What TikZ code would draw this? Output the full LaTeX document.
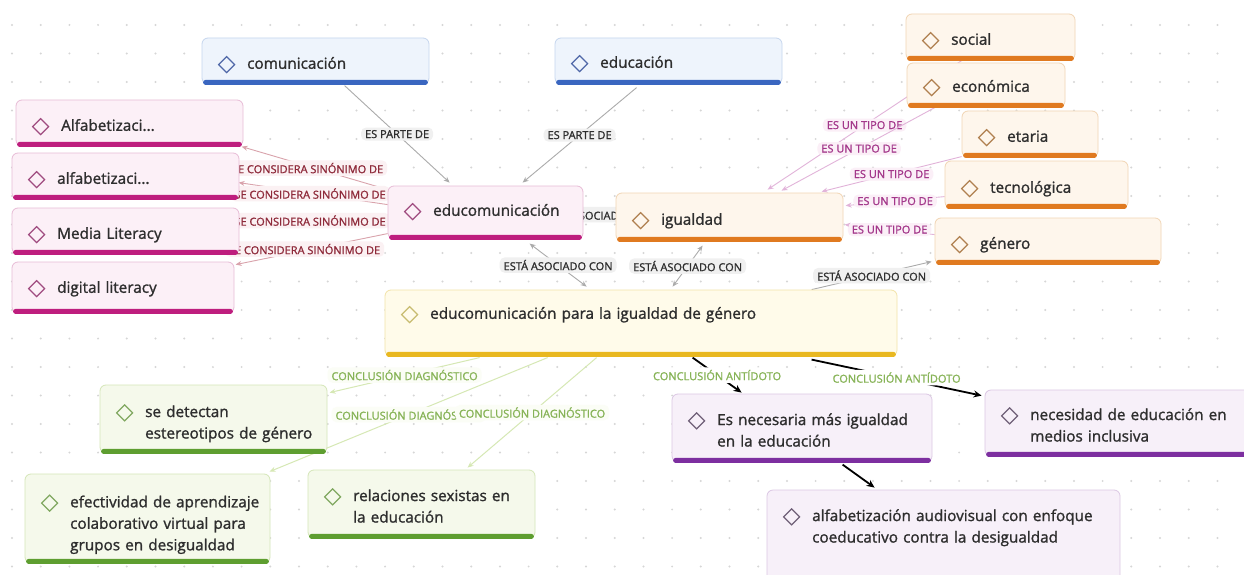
\documentclass[tikz,border=0pt]{standalone}
\usepackage{fontspec}
\setmainfont{Open Sans}
\newfontfamily\mfont{Open Sans}[FakeBold=1.3]
\usetikzlibrary{arrows.meta,calc}
\pgfdeclarelayer{bg}\pgfdeclarelayer{edges}\pgfsetlayers{bg,edges,main}
\definecolor{textc}{HTML}{2E2E2E}
\definecolor{dotc}{HTML}{D6D6D6}
\definecolor{bluefill}{HTML}{EEF4FC}\definecolor{blueline}{HTML}{C6D6EE}\definecolor{bluebar}{HTML}{3A66C0}\definecolor{bluedia}{HTML}{5068A8}
\definecolor{pinkfill}{HTML}{FCF0F7}\definecolor{pinkline}{HTML}{E8BCD6}\definecolor{pinkbar}{HTML}{BE1E7E}\definecolor{pinkdia}{HTML}{A04C80}
\definecolor{orangefill}{HTML}{FEF6EC}\definecolor{orangeline}{HTML}{F1D5B4}\definecolor{orangebar}{HTML}{E07A20}\definecolor{orangedia}{HTML}{B08050}
\definecolor{yellowfill}{HTML}{FFFBEA}\definecolor{yellowline}{HTML}{F2E3A8}\definecolor{yellowbar}{HTML}{E9B820}\definecolor{yellowdia}{HTML}{C8BC70}
\definecolor{greenfill}{HTML}{F5F9EB}\definecolor{greenline}{HTML}{D5E6B8}\definecolor{greenbar}{HTML}{5E9E30}\definecolor{greendia}{HTML}{80A860}
\definecolor{purplefill}{HTML}{F7F0F9}\definecolor{purpleline}{HTML}{DCC8E4}\definecolor{purplebar}{HTML}{7D2FA0}\definecolor{purpledia}{HTML}{706078}
\definecolor{grayedge}{HTML}{ABABAB}\definecolor{grayfill}{HTML}{F0F0F0}
\definecolor{synedge}{HTML}{D9A3AC}\definecolor{synfill}{HTML}{FBF1F3}\definecolor{syntext}{HTML}{8E2A3A}
\definecolor{tipoedge}{HTML}{E2B4DA}\definecolor{tipofill}{HTML}{FBEFF7}\definecolor{tipotext}{HTML}{A3378A}
\definecolor{diagedge}{HTML}{D6E8B4}\definecolor{diagfill}{HTML}{FBFDF6}\definecolor{diagtext}{HTML}{86B356}
\newcommand\dia[1]{\raisebox{-4.4pt}[0pt][0pt]{\tikz[x=1pt,y=1pt,sharp corners]\draw[#1,line width=1.2pt,line join=miter] (0,0)--(8,8)--(16,0)--(8,-8)--cycle;}}
\renewcommand\arraystretch{1.25}
\tikzset{
 mbox/.style={rectangle,rounded corners=6pt,line width=0.8pt,inner xsep=8pt,inner ysep=0pt,align=left,
   font=\mfont\fontsize{15.3}{17.2}\selectfont,text=textc},
 lab/.style={font=\mfont\fontsize{11}{12}\selectfont,inner xsep=4pt,inner ysep=2.5pt,rounded corners=5pt},
 partlab/.style={lab,fill=grayfill,text=textc},
 synlab/.style={lab,fill=synfill,text=syntext},
 tipolab/.style={lab,fill=tipofill,text=tipotext},
 diaglab/.style={lab,fill=diagfill,text=diagtext},
 antlab/.style={lab,fill=white,text=diagtext},
 gedge/.style={draw=grayedge,line width=0.9pt,-{Stealth[length=6pt,width=5pt]}},
 synedge/.style={draw=synedge,line width=0.9pt,-{Stealth[length=6pt,width=5pt]}},
 tipoedge/.style={draw=tipoedge,line width=0.9pt,-{Stealth[length=6pt,width=5pt]}},
 diagedge/.style={draw=diagedge,line width=1pt,-{Stealth[length=6pt,width=5pt]}},
 antedge/.style={draw=black,line width=1.8pt,-{Stealth[length=8pt,width=7pt]}},
 bothgray/.style={draw=grayedge,line width=0.9pt,{Stealth[length=6pt,width=5pt]}-{Stealth[length=6pt,width=5pt]}}
}
% #1 name, #2 group, #3 x1, #4 y1, #5 x2, #6 y2, #7 text centre y, #8 rows
\newcommand\mnode[8]{%
 \pgfmathsetmacro\mnW{#5-#3}%
 \pgfmathsetmacro\mnH{#6-#4}%
 \pgfmathsetmacro\mnT{#5-#3-16}%
 \pgfmathsetmacro\mnX{(#3+#5)/2}%
 \pgfmathsetmacro\mnY{(#4+#6)/2}%
 \pgfmathsetmacro\mnR{(#4+#6)/2-#7-5.1}%
 \node[mbox,fill=#2fill,draw=#2line,minimum width=\mnW pt,minimum height=\mnH pt,text width=\mnT pt] (#1) at (\mnX,\mnY)
   {\raisebox{\mnR pt}[0pt][0pt]{\hspace*{8pt}\begin{tabular}[c]{@{}c@{\hspace{12pt}}l@{}}\dia{#2dia}&#8\end{tabular}}};
 \fill[#2bar,rounded corners=2.5pt] ($(#1.south west)+(1.5,-4.5)$) rectangle ($(#1.south east)+(-1.5,0.5)$);
}
\begin{document}
\begin{tikzpicture}[x=1pt,y=-1pt]
\useasboundingbox (0,0) rectangle (1244,575);
\begin{pgfonlayer}{bg}
 \fill[white] (0,0) rectangle (1244,575);
 \foreach \i in {0,...,43}{\foreach \j in {0,...,19}{\fill[dotc] ({12+28.7*\i},{25+28.5*\j}) circle (1.1);}}
\end{pgfonlayer}
% nodes
\mnode{com}{blue}{202}{38}{429}{84}{63}{comunicación}
\mnode{edu}{blue}{555}{38}{782}{84}{62}{educación}
\mnode{alfa1}{pink}{16}{100}{243}{146}{125}{Alfabetizaci...}
\mnode{alfa2}{pink}{12}{153}{239}{199}{178}{alfabetizaci...}
\mnode{media}{pink}{12}{208}{239}{254}{233}{Media Literacy}
\mnode{digi}{pink}{12}{262}{234}{313}{287}{digital literacy}
\mnode{educ}{pink}{388}{186}{583}{239}{210}{educomunicación}
\mnode{igu}{orange}{616}{193}{843}{241}{219}{igualdad}
\mnode{soc}{orange}{906}{14}{1075}{60}{39}{social}
\mnode{eco}{orange}{907}{63}{1065}{107}{86}{económica}
\mnode{eta}{orange}{962}{111}{1098}{157}{136}{etaria}
\mnode{tec}{orange}{945}{161}{1128}{208}{187}{tecnológica}
\mnode{gen}{orange}{935}{218}{1161}{264}{243}{género}
\mnode{main}{yellow}{385}{290}{897}{356}{313}{educomunicación para la igualdad de género}
\mnode{sed}{green}{100}{385}{327}{453}{422}{se detectan\\&estereotipos de género}
\mnode{efe}{green}{25}{474}{270}{563}{523}{efectividad de aprendizaje\\&colaborativo virtual para\\&grupos en desigualdad}
\mnode{rel}{green}{308}{470}{535}{538}{506}{relaciones sexistas en\\&la educación}
\mnode{nec}{purple}{672}{394}{932}{462}{430}{Es necesaria más igualdad\\&en la educación}
\mnode{nme}{purple}{985}{390}{1252}{456}{425}{necesidad de educación en\\&medios inclusiva}
\mnode{aud}{purple}{767}{490}{1120}{600}{526}{alfabetización audiovisual con enfoque\\&coeducativo contra la desigualdad}
% connectors
\begin{pgfonlayer}{edges}
\draw[gedge] ($(com.north west)+(143,48)$) -- node[partlab] (l1) {ES PARTE DE} ($(educ.north west)+(62,-3)$);
\draw[gedge] ($(edu.north west)+(82,50)$) -- node[partlab] (l2) {ES PARTE DE} ($(educ.north west)+(135,-3)$);
\draw[synedge] ($(educ.north west)+(0,4)$) -- node[synlab,xshift=-7pt] (l3) {SE CONSIDERA SINÓNIMO DE} ($(alfa1.north west)+(226,47)$);
\draw[synedge] ($(educ.north west)+(0,19)$) -- node[synlab,xshift=-3pt] (l4) {SE CONSIDERA SINÓNIMO DE} ($(alfa2.north west)+(227,30)$);
\draw[synedge] ($(educ.north west)+(0,36)$) -- node[synlab,xshift=-3pt] (l5) {SE CONSIDERA SINÓNIMO DE} ($(media.north west)+(227,12)$);
\draw[synedge] ($(educ.north west)+(0,48)$) -- node[synlab,xshift=-7pt] (l6) {SE CONSIDERA SINÓNIMO DE} ($(digi.north west)+(224,3)$);
\draw[bothgray] ($(educ.north west)+(195,27)$) -- node[partlab] (l7) {ESTÁ ASOCIADO CON} ($(igu.north west)+(0,24)$);
\draw[bothgray] ($(educ.north west)+(142,58)$) -- node[partlab] (l8) {ESTÁ ASOCIADO CON} ($(main.north west)+(202,-3)$);
\draw[bothgray] ($(igu.north west)+(87,53)$) -- node[partlab] (l9) {ESTÁ ASOCIADO CON} ($(main.north west)+(288,-3)$);
\draw[gedge] ($(main.north west)+(427,0)$) -- node[partlab] (l10) {ESTÁ ASOCIADO CON} ($(gen.north west)+(-3,44)$);
\draw[tipoedge] ($(soc.north west)+(56,47)$) -- node[tipolab] (l11) {ES UN TIPO DE} ($(igu.north west)+(152,-3)$);
\draw[tipoedge] ($(eco.north west)+(30,44)$) -- node[tipolab] (l12) {ES UN TIPO DE} ($(igu.north west)+(166,-2)$);
\draw[tipoedge] ($(eta.north west)+(0,46)$) -- node[tipolab] (l13) {ES UN TIPO DE} ($(igu.north west)+(206,-1)$);
\draw[tipoedge] ($(tec.north west)+(0,36)$) -- node[tipolab] (l14) {ES UN TIPO DE} ($(igu.north west)+(230,13)$);
\draw[tipoedge] ($(gen.north west)+(0,17)$) -- node[tipolab] (l15) {ES UN TIPO DE} ($(igu.north west)+(229,32)$);
\draw[diagedge] ($(main.north west)+(95,68)$) -- node[diaglab] (l16) {CONCLUSIÓN DIAGNÓSTICO} ($(sed.north west)+(230,8)$);
\draw[diagedge] ($(main.north west)+(163,68)$) -- node[diaglab] (l17) {CONCLUSIÓN DIAGNÓSTICO} ($(efe.north west)+(245,-2)$);
\draw[diagedge] ($(main.north west)+(212,68)$) -- node[diaglab] (l18) {CONCLUSIÓN DIAGNÓSTICO} ($(rel.north west)+(160,-2)$);
\draw[antedge] ($(main.north west)+(308,68)$) -- node[antlab] (l19) {CONCLUSIÓN ANTÍDOTO} ($(nec.north west)+(70,-1)$);
\draw[antedge] ($(main.north west)+(427,70)$) -- node[antlab] (l20) {CONCLUSIÓN ANTÍDOTO} ($(nme.north west)+(-3,6)$);
\draw[antedge] ($(nec.north west)+(171,71)$) -- ($(aud.north west)+(108,-2)$);
\end{pgfonlayer}
\end{tikzpicture}
\end{document}
